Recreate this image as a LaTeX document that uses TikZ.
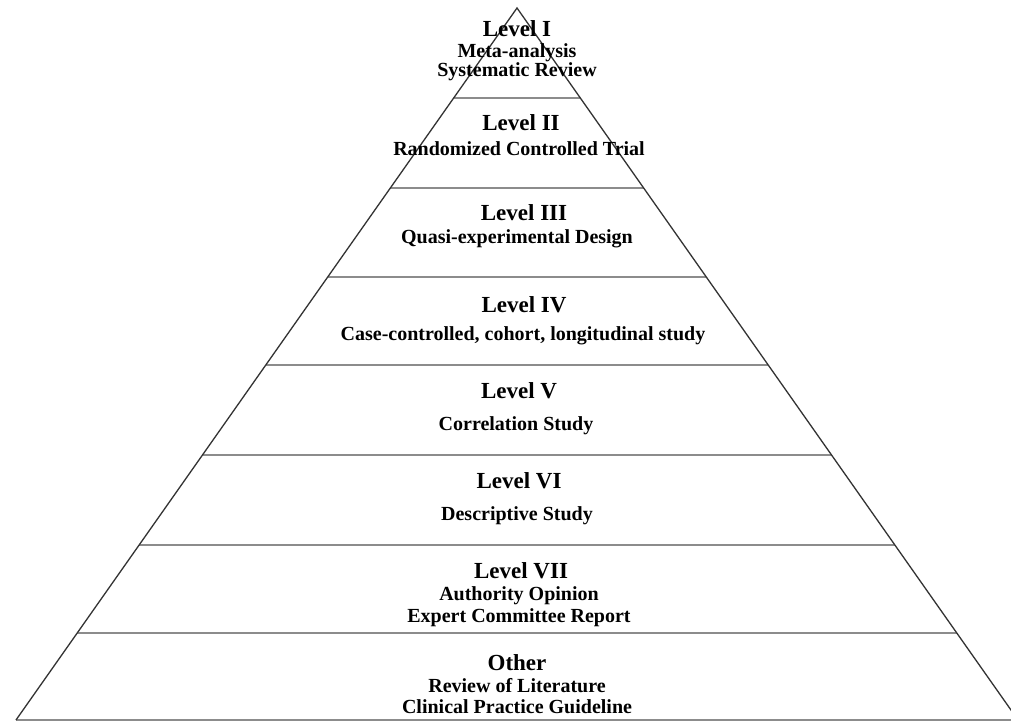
\documentclass[tikz,border=0pt]{standalone}
\usepackage{fontspec}
\setmainfont{Liberation Serif}
\usetikzlibrary{calc}

\tikzset{
  side/.style={draw=black!80, line width=1.3pt},
  divider/.style={draw=black!45, line width=2pt},
  lvltitle/.style={anchor=base, inner sep=0pt, font=\fontsize{23}{23}\selectfont\bfseries},
  lvlsub/.style={anchor=base, inner sep=0pt, font=\fontsize{20}{20}\selectfont\bfseries}
}

\begin{document}
\begin{tikzpicture}[x=1pt, y=-1pt]
  % Page frame, the corners of the pyramid fall just outside it.
  \clip (0,0) rectangle (1011,722);
  \fill[white] (0,0) rectangle (1011,722);
  \coordinate (apex) at (517,8);
  \coordinate (bl) at (16,720);
  \coordinate (br) at (1018,720);
  % Horizontal bands, cut where they meet the two sides.
  \foreach \y in {98,188,277,365,455,545,633,720}
    \draw[divider] ($(apex)!{(\y-8)/712}!(bl)$) -- ($(apex)!{(\y-8)/712}!(br)$);
  % Outline of the pyramid.
  \draw[side] (bl) -- (apex) -- (br);
  % Level I
  \node[lvltitle] (t1) at (517,37) {Level I};
  \node[lvlsub] (s1a) at (517,58) {Meta-analysis};
  \node[lvlsub] (s1b) at (517,77) {Systematic Review};
  % Level II
  \node[lvltitle] (t2) at (521,131) {Level II};
  \node[lvlsub] (s2) at (519,156) {Randomized Controlled Trial};
  % Level III
  \node[lvltitle] (t3) at (524,220) {Level III};
  \node[lvlsub] (s3) at (517,243) {Quasi-experimental Design};
  % Level IV
  \node[lvltitle] (t4) at (524,312) {Level IV};
  \node[lvlsub] (s4) at (523,340) {Case-controlled, cohort, longitudinal study};
  % Level V
  \node[lvltitle] (t5) at (519,398) {Level V};
  \node[lvlsub] (s5) at (516,430) {Correlation Study};
  % Level VI
  \node[lvltitle] (t6) at (519,488) {Level VI};
  \node[lvlsub] (s6) at (517,520) {Descriptive Study};
  % Level VII
  \node[lvltitle] (t7) at (521,578) {Level VII};
  \node[lvlsub] (s7a) at (519,600) {Authority Opinion};
  \node[lvlsub] (s7b) at (519,622) {Expert Committee Report};
  % Other
  \node[lvltitle] (t8) at (517,670) {Other};
  \node[lvlsub] (s8a) at (517,692) {Review of Literature};
  \node[lvlsub] (s8b) at (517,713) {Clinical Practice Guideline};
\end{tikzpicture}
\end{document}
